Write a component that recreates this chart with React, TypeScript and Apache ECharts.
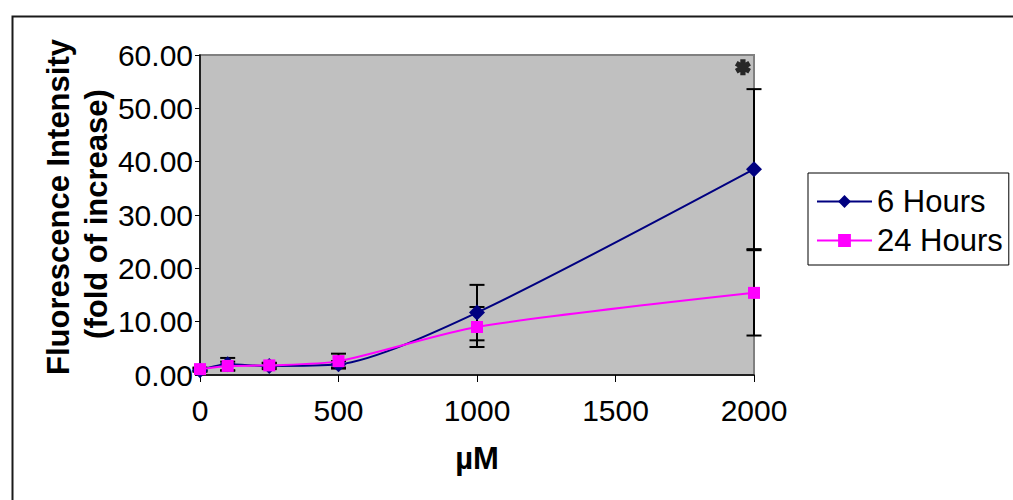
import React, { useEffect, useRef } from "react";
import * as echarts from "echarts";

const concentrations = [0, 100, 250, 500, 1000, 2000];
const hours6 = [0.9, 2.0, 1.7, 2.0, 11.7, 38.6];
const hours6Err = [0.3, 1.2, 0.6, 0.6, 5.2, 15.0];
const hours24 = [1.1, 1.7, 1.8, 2.6, 9.0, 15.4];
const hours24Err = [0.3, 0.8, 0.4, 1.4, 3.75, 8.0];
const yTicks = [0, 10, 20, 30, 40, 50, 60];
const xTicks = [0, 500, 1000, 1500, 2000];
const starPoint = [1960, 57.7];

const FONT = "Liberation Sans, Arial, sans-serif";

function asteriskPath(): string {
  const w = 0.34;
  const rin = w / Math.sin(Math.PI / 6);
  const pts: string[] = [];
  for (let k = 0; k < 6; k++) {
    const t = Math.PI / 2 + (k * Math.PI) / 3;
    const dx = Math.cos(t), dy = Math.sin(t);
    const px = -dy, py = dx;
    const c1 = [dx - px * w, dy - py * w];
    const c2 = [dx + px * w, dy + py * w];
    const ti = t + Math.PI / 6;
    const inn = [Math.cos(ti) * rin, Math.sin(ti) * rin];
    pts.push(c1.map((v) => (v * 10 + 10).toFixed(2)).join(" "));
    pts.push(c2.map((v) => (v * 10 + 10).toFixed(2)).join(" "));
    pts.push(inn.map((v) => (v * 10 + 10).toFixed(2)).join(" "));
  }
  return "path://M" + pts.join(" L") + " Z";
}

export default function App() {
  const ref = useRef<HTMLDivElement>(null);
  useEffect(() => {
    if (!ref.current) return;
    const chart = echarts.init(ref.current, null, { renderer: "svg" });
    const errData = (vals: number[], errs: number[]) =>
      concentrations.map((x, i) => [x, vals[i] - errs[i], vals[i] + errs[i]]);
    const errSeries = (name: string, vals: number[], errs: number[]) => ({
      type: "custom",
      name: name + " err",
      data: errData(vals, errs),
      z: 3,
      silent: true,
      renderItem: (params: any, api: any) => {
        const x = api.value(0);
        const lo = api.coord([x, api.value(1)]);
        const hi = api.coord([x, api.value(2)]);
        const hw = 7.5;
        const st = { stroke: "#000", lineWidth: 2 };
        return {
          type: "group",
          children: [
            { type: "line", shape: { x1: lo[0], y1: lo[1], x2: hi[0], y2: hi[1] }, style: st },
            { type: "line", shape: { x1: lo[0] - hw, y1: lo[1], x2: lo[0] + hw, y2: lo[1] }, style: st },
            { type: "line", shape: { x1: hi[0] - hw, y1: hi[1], x2: hi[0] + hw, y2: hi[1] }, style: st },
          ],
        };
      },
    });
    chart.setOption({
      animation: false,
      textStyle: { fontFamily: FONT },
      grid: {
        left: 200,
        top: 55,
        right: 259,
        bottom: 125,
        show: true,
        backgroundColor: "#C0C0C0",
        borderColor: "#808080",
        borderWidth: 2,
      },
      legend: {
        orient: "vertical",
        left: 808,
        top: 173,
        data: ["6 Hours", "24 Hours"],
        borderColor: "#000",
        borderWidth: 1,
        padding: [13, 6, 9, 8],
        itemWidth: 55,
        itemHeight: 16,
        itemGap: 8,
        textStyle: { fontSize: 31, color: "#000", fontFamily: FONT },
      },
      xAxis: {
        type: "value",
        min: xTicks[0],
        max: xTicks[xTicks.length - 1],
        interval: 500,
        name: "µM",
        nameLocation: "middle",
        nameGap: 68,
        nameTextStyle: { fontSize: 31, fontWeight: "bold", color: "#000", fontFamily: FONT },
        axisLine: { lineStyle: { color: "#000", width: 1.5 } },
        axisTick: { show: true, inside: false, length: 7, lineStyle: { color: "#000" } },
        axisLabel: {
          fontSize: 30,
          color: "#000",
          margin: 20,
          fontFamily: FONT,
          formatter: (v: number) => String(v),
        },
        splitLine: { show: false },
      },
      yAxis: {
        type: "value",
        min: yTicks[0],
        max: yTicks[yTicks.length - 1],
        interval: 10,
        axisLine: { show: true, lineStyle: { color: "#000", width: 1.5 } },
        axisTick: { show: true, inside: false, length: 5, lineStyle: { color: "#000" } },
        axisLabel: {
          fontSize: 30,
          color: "#000",
          margin: 7,
          fontFamily: FONT,
          formatter: (v: number) => v.toFixed(2),
        },
        splitLine: { show: false },
      },
      graphic: [
        {
          type: "rect",
          left: 10,
          top: 14,
          shape: { width: 1100, height: 600 },
          style: { fill: "none", stroke: "#1a1a1a", lineWidth: 2 },
          silent: true,
          z: -10,
        },
        {
          type: "text",
          x: 58,
          y: 207,
          rotation: Math.PI / 2,
          style: {
            text: "Fluorescence Intensity",
            font: "bold 31px " + FONT,
            fill: "#000",
            textAlign: "center",
            textVerticalAlign: "middle",
          },
        },
        {
          type: "text",
          x: 96,
          y: 214,
          rotation: Math.PI / 2,
          style: {
            text: "(fold of increase)",
            font: "bold 31px " + FONT,
            fill: "#000",
            textAlign: "center",
            textVerticalAlign: "middle",
          },
        },
      ],
      series: [
        errSeries("6 Hours", hours6, hours6Err),
        errSeries("24 Hours", hours24, hours24Err),
        {
          type: "line",
          name: "6 Hours",
          data: concentrations.map((x, i) => [x, hours6[i]]),
          smooth: 0.25,
          symbol: "diamond",
          symbolSize: 16,
          z: 4,
          itemStyle: { color: "#000080" },
          lineStyle: { color: "#000080", width: 2 },
        },
        {
          type: "line",
          name: "24 Hours",
          data: concentrations.map((x, i) => [x, hours24[i]]),
          smooth: 0.25,
          symbol: "rect",
          symbolSize: 12,
          z: 5,
          itemStyle: { color: "#FF00FF" },
          lineStyle: { color: "#FF00FF", width: 2 },
        },
        {
          type: "scatter",
          name: "significance",
          data: [starPoint],
          symbol: asteriskPath(),
          symbolSize: 16,
          z: 6,
          itemStyle: { color: "#000" },
        },
      ],
    });
    return () => chart.dispose();
  }, []);
  return (
    <div
      ref={ref}
      style={{ position: "fixed", left: 0, top: 0, width: 1013, height: 500, background: "#fff" }}
    />
  );
}
